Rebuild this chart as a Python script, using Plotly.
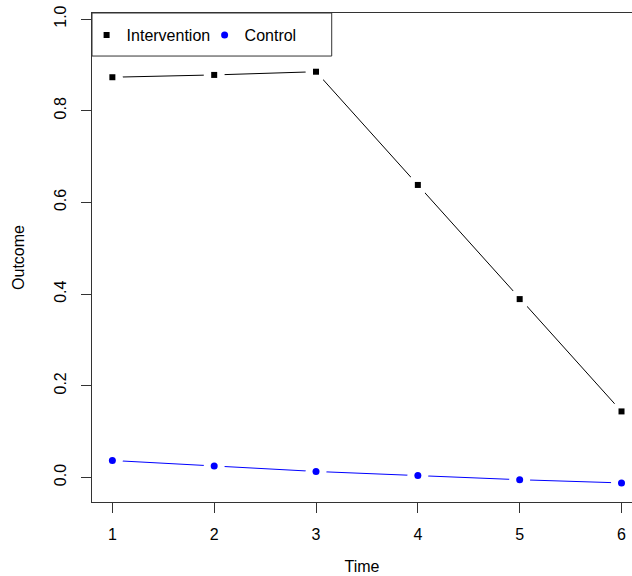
import plotly.graph_objects as go

# ---- data ----
time = [1, 2, 3, 4, 5, 6]
intervention = [0.873, 0.878, 0.885, 0.638, 0.389, 0.144]
control = [0.037, 0.025, 0.013, 0.004, -0.005, -0.012]
x_ticks = [1, 2, 3, 4, 5, 6]
y_ticks = [0.0, 0.2, 0.4, 0.6, 0.8, 1.0]
y_tick_labels = ["0.0", "0.2", "0.4", "0.6", "0.8", "1.0"]

FONT = "Liberation Sans, Arial, sans-serif"
AXIS_COLOR = "#333333"

fig = go.Figure()

# connecting lines
fig.add_trace(go.Scatter(x=time, y=intervention, mode="lines",
                         line=dict(color="black", width=1),
                         showlegend=False, hoverinfo="skip"))
fig.add_trace(go.Scatter(x=time, y=control, mode="lines",
                         line=dict(color="#0000FF", width=1),
                         showlegend=False, hoverinfo="skip"))
# white halos to produce the "type = b" gaps around points
for series in (intervention, control):
    fig.add_trace(go.Scatter(x=time, y=series, mode="markers",
                             marker=dict(color="white", size=21, symbol="circle",
                                         line=dict(width=0)),
                             showlegend=False, hoverinfo="skip"))
# points
fig.add_trace(go.Scatter(x=time, y=intervention, mode="markers", name="Intervention",
                         marker=dict(color="black", size=6, symbol="square",
                                     line=dict(width=0))))
fig.add_trace(go.Scatter(x=time, y=control, mode="markers", name="Control",
                         marker=dict(color="#0000FF", size=7, symbol="circle",
                                     line=dict(width=0))))

fig.update_layout(
    width=632, height=576,
    margin=dict(l=92, r=0, t=13, b=74),
    paper_bgcolor="white", plot_bgcolor="white",
    font=dict(family=FONT, size=16, color="black"),
    showlegend=True,
    legend=dict(orientation="h", x=-0.01, y=0.955, xanchor="left", yanchor="middle",
                bgcolor="rgba(0,0,0,0)", borderwidth=0,
                entrywidth=73, entrywidthmode="pixels",
                font=dict(family=FONT, size=16, color="black"),
                itemclick=False, itemdoubleclick=False),
    shapes=[dict(type="rect", xref="paper", yref="paper",
                 x0=0, x1=0.4439, y0=0.912, y1=1,
                 line=dict(color=AXIS_COLOR, width=1),
                 fillcolor="white", layer="below")],
    xaxis=dict(range=[0.8, 6.103], tickmode="array", tickvals=x_ticks,
               ticktext=[str(t) for t in x_ticks],
               showgrid=False, zeroline=False,
               showline=True, linecolor=AXIS_COLOR, linewidth=1, mirror=True,
               ticks="outside", ticklen=10, tickcolor=AXIS_COLOR, tickwidth=1,
               ticklabelstandoff=8, ticklabeloverflow="allow",
               tickfont=dict(family=FONT, size=16, color="black"),
               title=dict(text="Time", standoff=18,
                          font=dict(family=FONT, size=16, color="black"))),
    yaxis=dict(range=[-0.0536, 1.0131], tickmode="array", tickvals=y_ticks,
               ticktext=y_tick_labels, tickangle=-90,
               showgrid=False, zeroline=False,
               showline=True, linecolor=AXIS_COLOR, linewidth=1, mirror=False,
               ticks="outside", ticklen=10, tickcolor=AXIS_COLOR, tickwidth=1,
               ticklabelstandoff=9, ticklabeloverflow="allow",
               tickfont=dict(family=FONT, size=16, color="black"),
               title=dict(text="Outcome", standoff=22,
                          font=dict(family=FONT, size=16, color="black"))),
)

# remove the browser's default page margin so the figure fills the window
fig.write_html("out.html",
               config={"displayModeBar": False},
               post_script="document.body.style.margin='0';"
                           "document.body.style.overflow='hidden';")
